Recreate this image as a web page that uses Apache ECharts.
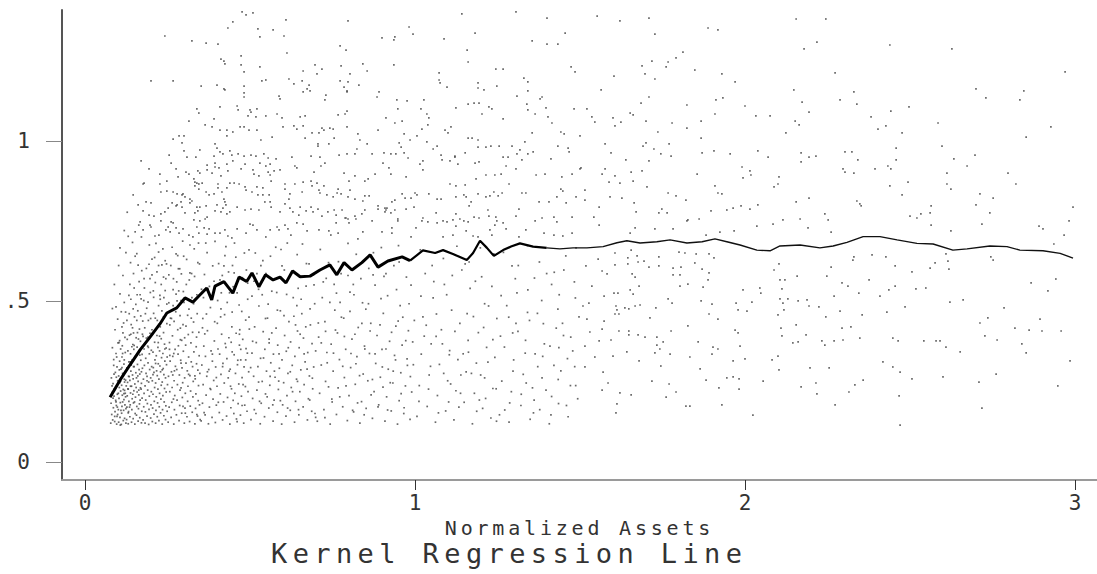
<!DOCTYPE html>
<html><head><meta charset="utf-8">
<script src="https://cdn.jsdelivr.net/npm/echarts@6/dist/echarts.min.js"></script>
<style>
html,body{margin:0;padding:0;background:#fff;}
#chart{width:1097px;height:574px;}
#chart text[style*="27px"]{letter-spacing:5.4px;}
#chart text[style*="20px"]{letter-spacing:3.8px;}
</style></head><body><div id="chart"></div>
<script>
const chartTitle = 'Kernel Regression Line';
const xAxisName = 'Normalized Assets';
const xTickValues = [0, 1, 2, 3];
const xTickLabels = ['0', '1', '2', '3'];
const yTickValues = [0, 0.5, 1];
const yTickLabels = ['0', '.5', '1'];
const xRange = [-0.0697, 3.0667];
const yRange = [-0.0561, 1.408];

const kernelX = [0.076,0.106,0.136,0.167,0.197,0.227,0.248,0.278,0.303,0.327,0.348,0.369,0.384,0.394,0.421,0.448,0.467,0.490,0.506,0.527,0.547,0.570,0.591,0.609,0.629,0.652,0.682,0.712,0.742,0.763,0.785,0.809,0.839,0.864,0.888,0.918,0.961,0.985,1.024,1.061,1.085,1.115,1.157,1.176,1.197,1.218,1.239,1.267,1.291,1.318,1.358,1.399,1.439,1.479,1.521,1.570,1.612,1.642,1.682,1.733,1.773,1.824,1.870,1.909,1.945,1.985,2.036,2.076,2.106,2.167,2.227,2.267,2.309,2.358,2.409,2.461,2.521,2.570,2.630,2.673,2.742,2.794,2.833,2.903,2.955,2.994];
const kernelY = [0.202,0.255,0.302,0.349,0.389,0.430,0.464,0.480,0.511,0.498,0.520,0.542,0.505,0.548,0.562,0.526,0.576,0.562,0.589,0.546,0.583,0.567,0.576,0.558,0.595,0.577,0.579,0.598,0.614,0.583,0.621,0.598,0.621,0.645,0.607,0.626,0.639,0.627,0.659,0.651,0.660,0.648,0.629,0.651,0.689,0.667,0.642,0.660,0.671,0.681,0.671,0.667,0.664,0.667,0.667,0.671,0.683,0.689,0.682,0.686,0.692,0.682,0.686,0.695,0.686,0.676,0.660,0.658,0.673,0.676,0.667,0.673,0.684,0.702,0.702,0.692,0.681,0.679,0.660,0.664,0.673,0.671,0.660,0.658,0.650,0.635];

const dotsUpperLeft = [[0.476,1.402],[0.488,1.393],[0.509,1.399],[0.609,1.377],[0.448,1.371],[0.433,1.352],[0.524,1.349],[0.570,1.346],[0.242,1.327],[0.530,1.324],[0.603,1.327],[0.324,1.312],[0.367,1.305],[0.403,1.302],[0.797,1.374],[1.142,1.396],[1.306,1.402],[1.400,1.383],[0.982,1.355],[0.994,1.333],[1.182,1.336],[1.455,1.336],[0.900,1.321],[0.936,1.315],[0.939,1.324],[1.088,1.318],[1.355,1.312],[1.400,1.302],[1.433,1.302],[0.773,1.296],[0.791,1.283],[0.612,1.274],[0.473,1.265],[1.158,1.283],[1.161,1.246],[0.412,1.255],[0.421,1.249],[0.424,1.240],[0.473,1.237],[0.530,1.231],[0.482,1.215],[0.661,1.218],[0.697,1.237],[0.718,1.224],[0.703,1.209],[0.776,1.234],[0.842,1.240],[0.936,1.237],[0.855,1.218],[0.803,1.209],[1.073,1.212],[1.245,1.224],[1.267,1.224],[1.473,1.231],[1.485,1.215],[0.200,1.187],[0.267,1.187],[0.352,1.171],[0.400,1.174],[0.421,1.162],[0.424,1.159],[0.482,1.171],[0.536,1.187],[0.548,1.190],[0.618,1.193],[0.633,1.178],[0.658,1.187],[0.679,1.174],[0.673,1.162],[0.682,1.156],[0.661,1.153],[0.773,1.187],[0.797,1.184],[0.785,1.168],[0.794,1.156],[0.830,1.174],[1.073,1.190],[1.076,1.181],[1.097,1.168],[1.191,1.181],[1.191,1.165],[1.209,1.159],[1.248,1.171],[1.309,1.140],[1.342,1.184],[1.342,1.156],[1.330,1.196],[0.482,1.150],[0.482,1.137],[0.588,1.140],[0.591,1.131],[0.730,1.143],[0.727,1.128],[0.794,1.153],[0.885,1.137],[0.891,1.153],[0.945,1.128],[0.976,1.125],[1.027,1.128],[1.124,1.103],[1.161,1.115],[1.179,1.118],[1.194,1.118],[1.224,1.106],[1.233,1.100],[1.339,1.115],[1.342,1.097],[1.385,1.137],[1.379,1.131],[1.397,1.103],[1.482,1.100],[0.339,1.100],[0.345,1.087],[0.409,1.106],[0.461,1.109],[0.464,1.097],[0.500,1.097],[0.503,1.090],[0.521,1.100],[0.494,1.078],[0.518,1.075],[0.548,1.078],[0.582,1.084],[0.597,1.072],[0.652,1.075],[0.667,1.078],[0.767,1.081],[0.788,1.084],[0.794,1.093],[0.948,1.100],[0.912,1.072],[0.939,1.056],[0.961,1.062],[1.018,1.100],[1.036,1.084],[1.042,1.072],[1.039,1.050],[1.021,1.037],[1.203,1.084],[1.267,1.069],[1.364,1.084],[1.403,1.075],[1.415,1.056],[0.315,1.062],[0.391,1.069],[0.364,1.050],[0.385,1.044],[0.409,1.034],[0.430,1.034],[0.430,1.016],[0.448,1.028],[0.470,1.044],[0.482,1.044],[0.497,1.034],[0.521,1.034],[0.567,1.012],[0.533,1.003],[0.600,1.044],[0.633,1.047],[0.642,1.037],[0.661,1.047],[0.667,1.009],[0.688,1.025],[0.709,1.025],[0.718,1.040],[0.724,1.034],[0.742,1.040],[0.752,1.037],[0.755,1.009],[0.739,0.991],[0.706,0.991],[0.706,0.984],[0.794,1.044],[0.827,1.022],[0.833,1.003],[0.855,0.991],[0.888,1.034],[0.967,1.022],[0.985,1.003],[1.006,1.016],[1.036,0.997],[1.067,0.984],[1.091,1.034],[1.100,1.025],[1.109,1.044],[1.161,1.009],[1.173,1.009],[1.191,1.003],[1.191,0.981],[1.215,0.981],[1.230,0.984],[1.255,0.984],[1.267,0.950],[1.282,0.950],[1.294,0.984],[1.318,0.972],[1.309,0.960],[1.333,0.997],[1.355,1.025],[1.358,0.966],[1.342,0.960],[1.412,0.944],[1.433,0.984],[1.442,1.028],[1.452,1.022],[1.464,0.978],[1.467,0.966],[1.500,1.016],[0.285,1.016],[0.300,1.016],[0.267,1.006],[0.294,0.994],[0.255,0.956],[0.300,0.969],[0.309,0.950],[0.336,0.950],[0.348,0.972],[0.394,0.991],[0.400,0.978],[0.409,0.966],[0.418,0.960],[0.391,0.953],[0.439,0.969],[0.445,0.956],[0.464,0.960],[0.482,0.953],[0.503,0.956],[0.518,0.953],[0.542,0.960],[0.555,0.947],[0.579,0.944],[0.627,0.950],[0.685,0.953],[0.712,0.950],[0.770,0.956],[0.794,0.960],[0.818,0.960],[0.824,0.975],[0.870,0.960],[0.906,0.963],[0.927,0.960],[0.942,0.960],[0.952,0.994],[0.958,0.981],[0.967,0.963],[0.979,0.947],[1.055,0.975],[1.079,0.956],[1.121,0.953],[1.152,0.963],[0.170,0.938],[0.194,0.913],[0.179,0.869],[0.227,0.897],[0.261,0.931],[0.276,0.913],[0.282,0.888],[0.306,0.903],[0.315,0.897],[0.342,0.907],[0.348,0.900],[0.330,0.882],[0.339,0.869],[0.370,0.925],[0.370,0.910],[0.385,0.900],[0.394,0.931],[0.394,0.919],[0.406,0.916],[0.412,0.891],[0.430,0.928],[0.433,0.907],[0.448,0.938],[0.473,0.913],[0.485,0.928],[0.509,0.910],[0.512,0.897],[0.527,0.891],[0.530,0.931],[0.548,0.922],[0.561,0.928],[0.555,0.903],[0.561,0.894],[0.573,0.907],[0.591,0.910],[0.636,0.922],[0.642,0.916],[0.661,0.872],[0.694,0.903],[0.715,0.922],[0.727,0.931],[0.785,0.900],[0.800,0.875],[0.818,0.891],[0.848,0.875],[0.858,0.882],[0.879,0.897],[0.903,0.931],[0.921,0.916],[0.927,0.897],[0.973,0.888],[1.015,0.928],[1.024,0.938],[1.024,0.910],[1.082,0.941],[1.106,0.938],[1.121,0.950],[1.130,0.928],[1.182,0.931],[1.194,0.935],[1.185,0.882],[1.215,0.894],[1.242,0.894],[1.261,0.897],[1.276,0.922],[1.306,0.913],[1.324,0.941],[1.367,0.894],[1.394,0.897],[1.445,0.888],[1.476,0.897],[1.500,0.913],
[0.176,0.866],[0.227,0.866],[0.248,0.875],[0.230,0.841],[0.248,0.844],[0.267,0.841],[0.279,0.835],[0.294,0.832],[0.303,0.826],[0.318,0.819],[0.333,0.872],[0.333,0.860],[0.345,0.866],[0.355,0.869],[0.345,0.850],[0.367,0.841],[0.376,0.832],[0.391,0.835],[0.403,0.866],[0.403,0.854],[0.415,0.841],[0.421,0.819],[0.424,0.810],[0.430,0.854],[0.439,0.869],[0.452,0.869],[0.467,0.866],[0.485,0.857],[0.488,0.847],[0.506,0.841],[0.521,0.857],[0.539,0.854],[0.524,0.832],[0.539,0.832],[0.564,0.875],[0.558,0.832],[0.606,0.866],[0.606,0.850],[0.621,0.835],[0.636,0.866],[0.658,0.841],[0.685,0.875],[0.688,0.860],[0.703,0.869],[0.709,0.847],[0.712,0.838],[0.724,0.860],[0.733,0.832],[0.764,0.838],[0.767,0.850],[0.752,0.826],[0.776,0.835],[0.797,0.826],[0.803,0.847],[0.818,0.819],[0.842,0.813],[0.848,0.829],[0.861,0.829],[0.888,0.798],[0.909,0.791],[0.912,0.785],[0.930,0.810],[0.939,0.816],[0.961,0.835],[0.970,0.822],[0.988,0.822],[1.000,0.838],[1.006,0.832],[1.042,0.835],[1.067,0.819],[1.079,0.819],[1.106,0.866],[1.124,0.860],[1.124,0.826],[1.155,0.826],[1.148,0.832],[1.152,0.863],[1.170,0.810],[1.164,0.798],[1.191,0.835],[1.215,0.826],[1.227,0.829],[1.239,0.841],[1.252,0.829],[1.264,0.838],[1.285,0.866],[1.324,0.838],[1.336,0.838],[1.376,0.810],[1.406,0.810],[1.442,0.850],[1.448,0.844],[1.430,0.826],[1.458,0.807],[1.488,0.826],
[0.185,0.810],[0.200,0.807],[0.176,0.782],[0.194,0.769],[0.209,0.766],[0.230,0.773],[0.242,0.779],[0.230,0.751],[0.252,0.791],[0.264,0.807],[0.261,0.748],[0.267,0.745],[0.276,0.798],[0.279,0.801],[0.291,0.810],[0.297,0.835],[0.294,0.794],[0.303,0.776],[0.318,0.807],[0.324,0.813],[0.339,0.794],[0.348,0.794],[0.367,0.798],[0.333,0.776],[0.342,0.782],[0.330,0.754],[0.348,0.751],[0.364,0.757],[0.370,0.763],[0.394,0.782],[0.400,0.801],[0.418,0.791],[0.427,0.801],[0.412,0.779],[0.430,0.773],[0.439,0.779],[0.461,0.794],[0.485,0.785],[0.503,0.788],[0.527,0.785],[0.545,0.810],[0.561,0.810],[0.564,0.794],[0.591,0.779],[0.606,0.804],[0.618,0.819],[0.621,0.791],[0.630,0.779],[0.652,0.794],[0.648,0.769],[0.670,0.782],[0.685,0.794],[0.691,0.779],[0.706,0.788],[0.718,0.766],[0.736,0.779],[0.755,0.785],[0.761,0.769],[0.779,0.785],[0.788,0.760],[0.797,0.757],[0.818,0.766],[0.839,0.773],[0.848,0.785],[0.888,0.788],[0.909,0.779],[0.915,0.791],[0.927,0.776],[0.939,0.785],[0.948,0.757],[0.973,0.788],[0.997,0.794],[1.024,0.760],[1.039,0.748],[1.064,0.776],[1.085,0.751],[1.097,0.748],[1.115,0.754],[1.124,0.773],[1.136,0.757],[1.148,0.751],[1.161,0.748],[1.179,0.763],[1.194,0.760],[1.221,0.785],[1.224,0.766],[1.245,0.763],[1.248,0.751],[1.267,0.745],[1.306,0.766],[1.315,0.788],[1.364,0.751],[1.385,0.760],[1.421,0.763],[1.430,0.748],[1.476,0.763],
[0.167,0.748],[0.176,0.723],[0.197,0.738],[0.200,0.732],[0.212,0.704],[0.224,0.707],[0.245,0.723],[0.252,0.732],[0.258,0.717],[0.276,0.729],[0.285,0.713],[0.297,0.726],[0.315,0.707],[0.327,0.701],[0.339,0.732],[0.345,0.713],[0.361,0.729],[0.370,0.710],[0.376,0.726],[0.394,0.713],[0.409,0.713],[0.424,0.723],[0.433,0.704],[0.445,0.698],[0.461,0.726],[0.488,0.713],[0.500,0.741],[0.509,0.738],[0.521,0.723],[0.548,0.701],[0.561,0.723],[0.582,0.732],[0.588,0.723],[0.606,0.738],[0.615,0.726],[0.624,0.707],[0.642,0.745],[0.661,0.741],[0.673,0.720],[0.709,0.723],[0.739,0.720],[0.745,0.707],[0.761,0.745],[0.767,0.713],[0.791,0.760],[0.800,0.745],[0.821,0.757],[0.827,0.695],[0.842,0.717],[0.870,0.751],[0.900,0.717],[0.930,0.729],[0.930,0.713],[0.948,0.751],[0.988,0.701],[1.003,0.729],[1.021,0.751],[1.067,0.745],[1.085,0.701],[1.115,0.707],[1.124,0.735],[1.155,0.720],[1.176,0.704],[1.191,0.701],[1.227,0.723],[1.233,0.707],[1.242,0.738],[1.276,0.726],[1.315,0.701],[1.336,0.723],[1.391,0.713],[1.421,0.707],[1.448,0.704],[1.476,0.713]];

const dotsLowerLeft = [[0.078,0.121],[0.081,0.148],[0.079,0.183],[0.083,0.217],[0.080,0.262],[0.084,0.131],[0.086,0.169],[0.088,0.205],[0.085,0.244],[0.087,0.301],[0.090,0.126],[0.091,0.157],[0.093,0.192],[0.089,0.228],[0.092,0.279],[0.094,0.338],[0.096,0.118],[0.097,0.142],[0.095,0.176],[0.098,0.211],[0.099,0.253],[0.097,0.296],[0.100,0.371],[0.102,0.124],[0.101,0.163],[0.103,0.198],[0.104,0.232],[0.102,0.268],[0.105,0.314],[0.106,0.139],[0.107,0.185],[0.108,0.221],[0.106,0.247],[0.109,0.289],[0.108,0.352],[0.110,0.117],[0.111,0.152],[0.112,0.173],[0.113,0.208],[0.111,0.239],[0.114,0.276],[0.112,0.327],[0.115,0.402],[0.116,0.129],[0.117,0.161],[0.118,0.194],[0.116,0.226],[0.119,0.258],[0.118,0.305],[0.120,0.136],[0.121,0.178],[0.122,0.214],[0.120,0.249],[0.123,0.283],[0.122,0.341],[0.124,0.121],[0.124,0.166],[0.123,0.203],[0.125,0.237],[0.121,0.388],[0.083,0.356],[0.091,0.412],[0.099,0.445],[0.110,0.468],[0.117,0.433],[0.087,0.319],[0.095,0.264],[0.104,0.287],[0.113,0.362],[0.119,0.318],[0.082,0.237],[0.090,0.142],[0.098,0.171],[0.107,0.115],[0.114,0.187],[0.120,0.223],[0.085,0.199],[0.093,0.232],[0.101,0.214],[0.109,0.161],[0.116,0.272],[0.123,0.255],[0.088,0.274],[0.096,0.327],[0.105,0.378],[0.112,0.421],[0.119,0.497],[0.106,0.524],[0.094,0.483],
[0.126,0.132],[0.127,0.171],[0.128,0.206],[0.129,0.248],[0.127,0.293],[0.130,0.346],[0.131,0.119],[0.132,0.157],[0.133,0.189],[0.131,0.227],[0.134,0.266],[0.133,0.312],[0.135,0.395],[0.136,0.141],[0.137,0.178],[0.138,0.215],[0.136,0.254],[0.139,0.283],[0.138,0.337],[0.140,0.428],[0.141,0.124],[0.142,0.163],[0.143,0.197],[0.141,0.236],[0.144,0.271],[0.143,0.318],[0.145,0.366],[0.146,0.135],[0.147,0.184],[0.148,0.222],[0.146,0.259],[0.149,0.297],[0.148,0.351],[0.150,0.452],[0.151,0.118],[0.152,0.151],[0.153,0.202],[0.151,0.243],[0.154,0.278],[0.153,0.329],[0.155,0.387],[0.156,0.146],[0.157,0.173],[0.158,0.218],[0.156,0.262],[0.159,0.304],[0.158,0.358],[0.160,0.471],[0.161,0.127],[0.162,0.166],[0.163,0.209],[0.161,0.251],[0.164,0.288],[0.163,0.341],[0.165,0.414],[0.166,0.138],[0.167,0.193],[0.168,0.231],[0.166,0.274],[0.169,0.317],[0.168,0.376],[0.170,0.508],[0.171,0.122],[0.172,0.158],[0.173,0.199],[0.171,0.245],[0.174,0.292],[0.173,0.335],[0.175,0.439],[0.128,0.382],[0.134,0.462],[0.139,0.507],[0.144,0.418],[0.149,0.542],[0.154,0.491],[0.159,0.403],[0.164,0.562],[0.169,0.455],[0.174,0.398],[0.130,0.228],[0.135,0.171],[0.140,0.302],[0.145,0.211],[0.150,0.187],[0.155,0.232],[0.160,0.268],[0.165,0.181],[0.170,0.227],[0.132,0.267],[0.137,0.312],[0.142,0.359],[0.147,0.402],[0.152,0.327],[0.157,0.441],[0.162,0.383],[0.167,0.521],[0.172,0.596],[0.147,0.587],[0.136,0.553],
[0.176,0.131],[0.178,0.172],[0.179,0.214],[0.177,0.258],[0.180,0.301],[0.179,0.352],[0.181,0.418],[0.182,0.121],[0.183,0.156],[0.184,0.193],[0.182,0.237],[0.185,0.276],[0.184,0.323],[0.186,0.386],[0.187,0.479],[0.188,0.143],[0.189,0.182],[0.190,0.224],[0.188,0.267],[0.191,0.309],[0.190,0.361],[0.192,0.441],[0.193,0.117],[0.194,0.164],[0.195,0.205],[0.193,0.249],[0.196,0.288],[0.195,0.337],[0.197,0.401],[0.198,0.528],[0.199,0.137],[0.200,0.178],[0.201,0.219],[0.199,0.262],[0.202,0.297],[0.201,0.348],[0.203,0.412],[0.204,0.126],[0.205,0.168],[0.206,0.211],[0.204,0.253],[0.207,0.294],[0.206,0.342],[0.208,0.463],[0.209,0.149],[0.210,0.189],[0.211,0.232],[0.209,0.279],[0.212,0.318],[0.211,0.373],[0.213,0.559],[0.214,0.121],[0.215,0.161],[0.216,0.203],[0.214,0.246],[0.217,0.284],[0.216,0.331],[0.218,0.394],[0.219,0.141],[0.220,0.184],[0.221,0.227],[0.219,0.269],[0.222,0.306],[0.221,0.357],[0.223,0.487],[0.224,0.129],[0.225,0.172],[0.226,0.214],[0.224,0.258],[0.227,0.299],[0.226,0.346],[0.228,0.421],[0.229,0.153],[0.230,0.196],[0.231,0.239],[0.229,0.281],[0.232,0.325],[0.231,0.384],[0.233,0.614],[0.234,0.118],[0.235,0.163],[0.236,0.207],[0.234,0.249],[0.237,0.291],[0.236,0.338],[0.238,0.452],[0.239,0.144],[0.240,0.187],[0.241,0.229],[0.239,0.272],[0.242,0.314],[0.241,0.367],[0.243,0.534],[0.244,0.132],[0.245,0.175],[0.246,0.218],[0.244,0.262],[0.247,0.303],[0.246,0.355],[0.248,0.431],[0.249,0.158],[0.250,0.241],[0.249,0.327],[0.180,0.542],[0.186,0.603],[0.191,0.498],[0.197,0.571],[0.203,0.632],[0.208,0.513],[0.213,0.448],[0.218,0.592],[0.223,0.654],[0.228,0.507],[0.233,0.471],[0.238,0.576],[0.243,0.627],[0.248,0.492],[0.195,0.676],[0.215,0.681],[0.236,0.664],[0.205,0.401],[0.226,0.392],
[0.252,0.124],[0.255,0.171],[0.257,0.219],[0.253,0.267],[0.258,0.314],[0.256,0.372],[0.259,0.448],[0.261,0.139],[0.263,0.186],[0.264,0.232],[0.262,0.281],[0.266,0.329],[0.265,0.393],[0.267,0.537],[0.269,0.118],[0.271,0.163],[0.272,0.207],[0.270,0.253],[0.274,0.298],[0.273,0.351],[0.275,0.468],[0.277,0.147],[0.279,0.193],[0.280,0.241],[0.278,0.288],[0.282,0.336],[0.281,0.412],[0.283,0.602],[0.285,0.129],[0.287,0.176],[0.288,0.224],[0.286,0.271],[0.290,0.317],[0.289,0.381],[0.291,0.503],[0.293,0.152],[0.295,0.201],[0.296,0.247],[0.294,0.293],[0.298,0.345],[0.297,0.428],[0.299,0.641],[0.301,0.121],[0.303,0.168],[0.304,0.214],[0.302,0.262],[0.306,0.308],[0.305,0.364],[0.307,0.553],[0.309,0.141],[0.311,0.189],[0.312,0.236],[0.310,0.284],[0.314,0.327],[0.313,0.397],[0.315,0.476],[0.317,0.126],[0.319,0.174],[0.320,0.221],[0.318,0.269],[0.322,0.312],[0.321,0.371],[0.323,0.587],[0.325,0.155],[0.327,0.203],[0.328,0.251],[0.326,0.297],[0.330,0.343],[0.329,0.436],[0.331,0.664],[0.333,0.119],[0.335,0.167],[0.336,0.212],[0.334,0.259],[0.338,0.306],[0.337,0.359],[0.339,0.521],[0.341,0.143],[0.343,0.191],[0.344,0.238],[0.342,0.286],[0.346,0.331],[0.345,0.404],[0.347,0.617],[0.349,0.132],[0.348,0.276],[0.260,0.612],[0.268,0.571],[0.276,0.648],[0.284,0.533],[0.292,0.586],[0.300,0.497],[0.308,0.631],[0.316,0.567],[0.324,0.512],[0.332,0.578],[0.340,0.462],[0.254,0.496],[0.270,0.438],[0.288,0.456],[0.306,0.423],[0.322,0.448],[0.338,0.389],[0.344,0.682],[0.318,0.676],[0.296,0.688],[0.264,0.669],
[0.352,0.128],[0.356,0.183],[0.358,0.241],[0.354,0.302],[0.360,0.361],[0.357,0.447],[0.362,0.584],[0.364,0.147],[0.367,0.208],[0.369,0.267],[0.365,0.329],[0.371,0.409],[0.370,0.652],[0.374,0.119],[0.377,0.171],[0.379,0.229],[0.375,0.288],[0.382,0.346],[0.380,0.481],[0.385,0.139],[0.388,0.196],[0.390,0.254],[0.386,0.314],[0.392,0.377],[0.391,0.563],[0.395,0.123],[0.398,0.177],[0.400,0.236],[0.396,0.296],[0.403,0.352],[0.401,0.432],[0.405,0.618],[0.407,0.154],[0.410,0.212],[0.412,0.273],[0.408,0.336],[0.414,0.398],[0.413,0.527],[0.417,0.131],[0.420,0.187],[0.422,0.246],[0.418,0.307],[0.425,0.369],[0.423,0.459],[0.427,0.671],[0.429,0.143],[0.432,0.201],[0.434,0.262],[0.430,0.322],[0.436,0.387],[0.435,0.592],[0.439,0.118],[0.442,0.169],[0.444,0.228],[0.440,0.289],[0.446,0.343],[0.445,0.421],[0.449,0.546],[0.451,0.151],[0.454,0.214],[0.456,0.276],[0.452,0.334],[0.458,0.401],[0.457,0.638],[0.461,0.126],[0.464,0.182],[0.466,0.243],[0.462,0.303],[0.468,0.364],[0.467,0.489],[0.471,0.146],[0.474,0.205],[0.476,0.263],[0.472,0.318],[0.478,0.382],[0.477,0.574],[0.481,0.121],[0.484,0.177],[0.486,0.235],[0.482,0.296],[0.488,0.353],[0.487,0.442],[0.491,0.158],[0.494,0.219],[0.496,0.281],[0.492,0.339],[0.498,0.414],[0.497,0.661],[0.359,0.512],[0.373,0.538],[0.387,0.611],[0.402,0.503],[0.416,0.581],[0.431,0.497],[0.447,0.612],[0.461,0.527],[0.475,0.469],[0.489,0.598],[0.366,0.682],[0.394,0.687],[0.424,0.643],[0.453,0.682],[0.483,0.651],[0.363,0.399],[0.411,0.452],[0.443,0.373],[0.469,0.412],[0.493,0.507],
[0.503,0.132],[0.508,0.198],[0.511,0.267],[0.506,0.339],[0.514,0.421],[0.512,0.563],[0.518,0.151],[0.521,0.224],[0.524,0.297],[0.519,0.372],[0.527,0.486],[0.531,0.119],[0.534,0.183],[0.537,0.251],[0.532,0.323],[0.540,0.406],[0.539,0.627],[0.544,0.141],[0.547,0.212],[0.550,0.283],[0.545,0.351],[0.553,0.448],[0.557,0.168],[0.560,0.239],[0.563,0.309],[0.558,0.383],[0.566,0.532],[0.570,0.127],[0.573,0.193],[0.576,0.264],[0.571,0.336],[0.579,0.417],[0.578,0.669],[0.583,0.155],[0.586,0.226],[0.589,0.292],[0.584,0.364],[0.592,0.471],[0.596,0.118],[0.599,0.178],[0.602,0.247],[0.597,0.318],[0.605,0.394],[0.604,0.598],[0.609,0.143],[0.612,0.207],[0.615,0.276],[0.610,0.345],[0.618,0.437],[0.622,0.161],[0.625,0.232],[0.628,0.301],[0.623,0.374],[0.631,0.512],[0.635,0.124],[0.638,0.189],[0.641,0.258],[0.636,0.329],[0.644,0.408],[0.643,0.646],[0.648,0.147],[0.651,0.219],[0.654,0.287],[0.649,0.356],[0.657,0.462],[0.661,0.172],[0.664,0.241],[0.667,0.312],[0.662,0.386],[0.670,0.548],[0.674,0.131],[0.677,0.197],[0.680,0.268],[0.675,0.341],[0.683,0.427],[0.687,0.158],[0.690,0.228],[0.693,0.296],[0.688,0.369],[0.696,0.493],[0.699,0.139],[0.516,0.651],[0.548,0.587],[0.581,0.528],[0.613,0.682],[0.646,0.541],[0.679,0.617],[0.526,0.538],[0.562,0.641],[0.594,0.662],[0.627,0.592],[0.659,0.679],[0.692,0.583],[0.555,0.492],[0.633,0.454],
[0.704,0.127],[0.711,0.214],[0.716,0.302],[0.708,0.389],[0.719,0.512],[0.724,0.163],[0.729,0.251],[0.733,0.341],[0.727,0.437],[0.738,0.621],[0.743,0.118],[0.748,0.196],[0.752,0.283],[0.746,0.367],[0.757,0.473],[0.762,0.148],[0.767,0.231],[0.771,0.319],[0.765,0.402],[0.776,0.587],[0.781,0.172],[0.786,0.263],[0.790,0.351],[0.784,0.448],[0.795,0.129],[0.800,0.207],[0.805,0.294],[0.809,0.383],[0.803,0.529],[0.814,0.156],[0.819,0.242],[0.824,0.328],[0.828,0.419],[0.822,0.647],[0.833,0.121],[0.838,0.188],[0.843,0.274],[0.847,0.361],[0.841,0.496],[0.852,0.167],[0.857,0.253],[0.862,0.338],[0.866,0.432],[0.860,0.603],[0.871,0.136],[0.876,0.219],[0.881,0.307],[0.885,0.394],[0.879,0.551],[0.890,0.178],[0.895,0.264],[0.900,0.351],[0.904,0.463],[0.898,0.668],[0.909,0.127],[0.914,0.203],[0.919,0.289],[0.923,0.376],[0.917,0.518],[0.928,0.159],[0.933,0.246],[0.938,0.332],[0.942,0.423],[0.936,0.612],[0.947,0.118],[0.952,0.191],[0.957,0.278],[0.961,0.364],[0.955,0.487],[0.966,0.151],[0.971,0.237],[0.976,0.321],[0.980,0.409],[0.974,0.576],[0.985,0.133],[0.990,0.218],[0.995,0.303],[0.998,0.441],[0.713,0.662],[0.755,0.553],[0.797,0.681],[0.836,0.571],[0.874,0.652],[0.912,0.587],[0.950,0.674],[0.988,0.551],[0.731,0.572],[0.773,0.497],[0.815,0.521],
[1.006,0.142],[1.013,0.238],[1.019,0.336],[1.024,0.452],[1.031,0.587],[1.037,0.173],[1.043,0.271],[1.049,0.368],[1.055,0.511],[1.062,0.124],[1.068,0.207],[1.074,0.304],[1.080,0.412],[1.086,0.634],[1.093,0.159],[1.099,0.253],[1.105,0.347],[1.111,0.473],[1.118,0.131],[1.124,0.222],[1.130,0.319],[1.136,0.432],[1.142,0.598],[1.149,0.186],[1.155,0.281],[1.161,0.379],[1.167,0.541],[1.174,0.119],[1.180,0.214],[1.186,0.308],[1.192,0.403],[1.198,0.667],[1.205,0.167],[1.211,0.262],[1.217,0.357],[1.223,0.486],[1.230,0.137],[1.236,0.229],[1.242,0.326],[1.248,0.447],[1.016,0.661],[1.052,0.612],[1.089,0.553],[1.127,0.672],[1.164,0.623],[1.202,0.577],[1.239,0.648],[1.028,0.392],[1.065,0.461],[1.102,0.187],[1.139,0.271],[1.177,0.453],[1.214,0.198],
[1.256,0.147],[1.263,0.252],[1.271,0.358],[1.278,0.487],[1.285,0.124],[1.292,0.219],[1.299,0.318],[1.306,0.432],[1.313,0.612],[1.321,0.176],[1.328,0.273],[1.335,0.379],[1.342,0.536],[1.349,0.133],[1.356,0.231],[1.364,0.337],[1.371,0.463],[1.378,0.163],[1.385,0.262],[1.392,0.368],[1.399,0.587],[1.407,0.119],[1.414,0.204],[1.421,0.301],[1.428,0.417],[1.435,0.182],[1.442,0.284],[1.450,0.394],[1.457,0.642],[1.464,0.141],[1.471,0.238],[1.478,0.346],[1.486,0.511],[1.493,0.197],[1.268,0.653],[1.304,0.571],[1.341,0.674],[1.377,0.623],[1.414,0.553],[1.451,0.598],[1.488,0.667],[1.296,0.402],[1.361,0.193],[1.433,0.476],
[0.083,0.478],[0.089,0.553],[0.102,0.612],[0.115,0.581],[0.124,0.652],[0.131,0.703],[0.138,0.621],[0.144,0.684],[0.152,0.717],[0.157,0.649],[0.163,0.738],[0.171,0.701],[0.128,0.778],[0.146,0.832],[0.119,0.721],[0.161,0.801],[0.106,0.667]];

const dotsMiddle = [[0.262,0.447],[0.291,0.231],[0.318,0.589],[0.347,0.178],[0.283,0.362],[0.329,0.493],[0.271,0.284],[0.356,0.418],[0.304,0.152],[0.377,0.547],[0.398,0.263],[0.421,0.611],[0.386,0.336],[0.449,0.192],[0.412,0.477],[0.468,0.398],[0.437,0.283],[0.493,0.557],[0.459,0.134],[0.508,0.376],[0.526,0.249],[0.487,0.318],[0.547,0.447],[0.569,0.178],[0.533,0.612],[0.588,0.337],[0.611,0.522],[0.574,0.283],[0.629,0.219],[0.652,0.398],[0.603,0.456],[0.673,0.289],[0.694,0.552],[0.647,0.163],[0.716,0.371],[0.738,0.234],[0.682,0.477],[0.759,0.411],[0.781,0.298],[0.727,0.138],[0.803,0.469],[0.826,0.184],[0.768,0.624],[0.848,0.352],[0.871,0.257],[0.813,0.553],[0.894,0.427],[0.917,0.162],[0.859,0.493],[0.941,0.318],[0.963,0.451],[0.906,0.578],[0.986,0.266],[0.952,0.623],[0.276,0.523],[0.302,0.387],[0.333,0.268],[0.361,0.154],[0.393,0.437],[0.427,0.357],[0.452,0.589],[0.479,0.241],[0.513,0.163],[0.541,0.324],[0.566,0.402],[0.597,0.611],[0.622,0.281],[0.655,0.507],[0.681,0.193],[0.707,0.433],[0.734,0.309],[0.762,0.526],[0.791,0.237],[0.818,0.398],[0.846,0.147],[0.873,0.583],[0.901,0.296],[0.929,0.404],[0.958,0.213],[0.982,0.493],[0.287,0.602],[0.311,0.457],[0.342,0.621],[0.371,0.281],[0.404,0.186],[0.438,0.527],[0.463,0.317],[0.497,0.451],[0.521,0.587],[0.552,0.203],[0.583,0.473],[0.616,0.356],[0.644,0.251],[0.671,0.618],[0.699,0.346],[0.722,0.561],[0.749,0.187],[0.777,0.451],[0.806,0.338],[0.832,0.269],[0.864,0.408],[0.888,0.172],[0.912,0.352],[0.944,0.537],[0.972,0.378],[0.257,0.332],[0.297,0.173],[0.326,0.404],[0.353,0.538],[0.381,0.226],[0.417,0.297],[0.446,0.467],[0.476,0.176],[0.502,0.294],[0.537,0.521],[0.561,0.267],[0.592,0.191],[0.619,0.577],[0.638,0.427],[0.664,0.337],[0.689,0.261],[0.711,0.598],[0.742,0.497],[0.772,0.203],[0.797,0.581],[0.821,0.306],[0.851,0.476],[0.879,0.337],[0.903,0.233],[0.934,0.283],[0.967,0.169],[0.993,0.374],[0.268,0.196],[0.314,0.273],[0.339,0.148],[0.368,0.461],[0.409,0.567],[0.441,0.236],[0.472,0.351],[0.506,0.517],[0.529,0.189],[0.558,0.371],[0.587,0.252],[0.614,0.168],[0.642,0.487],[0.669,0.421],[0.697,0.151],[0.729,0.407],[0.753,0.339],[0.786,0.391],[0.811,0.161],[0.839,0.432],[0.867,0.209],[0.897,0.509],[0.925,0.247],[0.949,0.439],[0.977,0.301],
[1.012,0.189],[1.034,0.426],[1.047,0.298],[1.071,0.153],[1.083,0.368],[1.096,0.521],[1.108,0.243],[1.121,0.407],[1.133,0.171],[1.146,0.337],[1.158,0.462],[1.171,0.276],[1.183,0.563],[1.195,0.193],[1.208,0.419],[1.221,0.311],[1.233,0.547],[1.246,0.228],[1.259,0.392],[1.272,0.162],[1.284,0.451],[1.297,0.283],[1.309,0.527],[1.322,0.211],[1.334,0.339],[1.347,0.441],[1.359,0.153],[1.372,0.297],[1.384,0.503],[1.397,0.224],[1.409,0.361],[1.422,0.591],[1.434,0.257],[1.447,0.432],[1.459,0.176],[1.472,0.389],[1.484,0.297],[1.497,0.452],[1.018,0.517],[1.041,0.227],[1.064,0.391],[1.087,0.276],[1.113,0.581],[1.138,0.214],[1.162,0.342],[1.187,0.158],[1.211,0.493],[1.236,0.381],[1.261,0.518],[1.287,0.184],[1.312,0.407],[1.337,0.246],[1.362,0.573],[1.387,0.329],[1.412,0.147],[1.437,0.521],[1.462,0.322],[1.487,0.238],[1.057,0.562],[1.104,0.334],[1.152,0.617],[1.199,0.271],[1.247,0.127],[1.294,0.611],[1.341,0.466],[1.389,0.431],[1.436,0.356],[1.483,0.561],
[0.094,0.187],[0.112,0.294],[0.127,0.441],[0.138,0.236],[0.149,0.363],[0.158,0.521],[0.171,0.281],[0.183,0.462],[0.192,0.357],[0.203,0.583],[0.214,0.307],[0.227,0.519],[0.238,0.403],[0.247,0.617],[0.256,0.351],[0.267,0.487],[0.278,0.561],[0.289,0.417],[0.298,0.531],[0.103,0.372],[0.118,0.213],[0.133,0.519],[0.147,0.297],[0.161,0.613],[0.176,0.391],[0.188,0.253],[0.199,0.447],[0.211,0.637],[0.222,0.372],[0.234,0.287],[0.245,0.571],[0.257,0.427],[0.269,0.338],[0.281,0.643],[0.293,0.379],[0.108,0.252],[0.123,0.467],[0.139,0.398],[0.152,0.641],[0.166,0.333],[0.179,0.571],[0.194,0.616],[0.207,0.533],[0.219,0.441],[0.231,0.553],[0.242,0.352],[0.254,0.583],[0.266,0.271],[0.279,0.502],[0.291,0.308],[0.099,0.148],[0.114,0.338],[0.131,0.153],[0.146,0.477],[0.163,0.224],[0.178,0.503],[0.191,0.389],[0.206,0.272],[0.223,0.612],[0.239,0.512]];

const dotsRight = [[1.552,1.389],[1.621,1.374],[1.709,1.383],[1.888,1.352],[1.918,1.346],[1.727,1.333],[2.155,1.380],[2.245,1.380],[2.218,1.308],[2.439,1.299],[2.627,1.287],[2.179,1.287],[1.812,1.277],[1.791,1.259],[1.767,1.246],[1.718,1.249],[1.688,1.234],[1.761,1.231],[1.697,1.209],[1.603,1.202],[1.727,1.193],[1.930,1.209],[1.848,1.221],[1.970,1.184],[2.273,1.212],[2.970,1.215],[1.564,1.159],[2.148,1.159],[2.330,1.153],[2.700,1.162],[2.845,1.156],[2.730,1.134],[2.833,1.128],[1.709,1.137],[1.685,1.118],[1.912,1.128],[1.933,1.134],[2.173,1.121],[2.288,1.128],[2.339,1.115],[2.497,1.106],[2.000,1.109],[1.824,1.112],[1.521,1.100],[2.442,1.093],[2.194,1.090],[1.652,1.087],[1.661,1.081],[1.909,1.084],[2.033,1.078],[2.076,1.078],[2.382,1.075],[1.536,1.075],[1.600,1.072],[1.545,1.059],[1.624,1.059],[1.700,1.062],[1.779,1.056],[1.867,1.062],[2.152,1.062],[2.585,1.056],[1.606,1.047],[1.824,1.040],[2.164,1.050],[2.403,1.037],[2.427,1.047],[2.927,1.044],[1.736,1.028],[2.124,1.025],[2.476,1.025],[1.867,1.009],[2.852,1.012],[1.576,0.991],[1.691,0.984],[1.700,0.994],[1.770,0.991],[2.597,0.984],[2.458,0.978],[1.724,0.975],[1.906,0.969],[2.039,0.969],[1.594,0.963],[1.745,0.960],[1.870,0.963],[1.955,0.960],[2.170,0.963],[2.303,0.966],[2.324,0.966],[1.776,0.953],[2.194,0.950],[2.215,0.953],[2.697,0.956],[1.639,0.941],[1.709,0.938],[2.070,0.950],[2.342,0.941],[2.458,0.941],[2.633,0.944],[2.170,0.935],[2.673,0.922],[1.991,0.919],[2.433,0.922],[2.442,0.913],[1.503,0.916],[1.576,0.913],[1.688,0.907],[2.015,0.907],[2.297,0.913],[2.394,0.913],[2.612,0.900],[2.797,0.900],[1.567,0.897],[1.606,0.891],[1.655,0.903],[1.855,0.897],[2.018,0.894],[2.303,0.903],[2.330,0.900],[1.994,0.885],[2.103,0.888],[1.588,0.872],[1.621,0.869],[1.661,0.875],[2.612,0.866],[2.821,0.866],[2.100,0.866],[2.494,0.872],[1.703,0.857],[1.909,0.860],[2.088,0.857],[2.439,0.860],[2.624,0.850],[1.515,0.847],[1.767,0.838],[1.918,0.838],[1.930,0.835],[2.476,0.832],[2.712,0.835],[1.591,0.826],[1.627,0.822],[1.791,0.829],[1.821,0.816],[2.194,0.822],[2.752,0.822],[1.515,0.816],[1.664,0.807],[2.339,0.813],[2.348,0.804],[2.155,0.810],[2.700,0.801],[2.994,0.794],[1.558,0.794],[1.748,0.788],[1.964,0.791],[1.988,0.798],[2.015,0.788],[2.039,0.801],[2.352,0.798],[2.564,0.798],[1.945,0.785],[1.739,0.776],[1.764,0.776],[1.897,0.782],[2.242,0.773],[2.561,0.776],[2.742,0.776],[1.670,0.779],[1.542,0.763],[1.827,0.754],[1.861,0.757],[2.167,0.757],[2.115,0.754],[2.252,0.754],[2.500,0.766],[2.521,0.760],[2.533,0.773],[2.718,0.741],[2.982,0.751],[1.824,0.751],[1.558,0.738],[2.036,0.735],[2.085,0.741],[2.564,0.738],[2.891,0.735],[1.667,0.729],[1.727,0.726],[1.782,0.726],[2.191,0.729],[2.967,0.707],[2.903,0.726],[1.652,0.713],[1.882,0.707],[1.924,0.716],[1.967,0.720],[2.261,0.716],[2.624,0.720],[2.936,0.679],
[1.655,0.660],[1.606,0.651],[1.555,0.632],[1.645,0.636],[1.673,0.642],[1.739,0.639],[1.800,0.654],[1.818,0.651],[1.852,0.648],[1.891,0.648],[1.906,0.636],[2.330,0.639],[2.385,0.645],[2.427,0.639],[2.609,0.648],[2.745,0.639],[2.752,0.629],[1.518,0.611],[1.606,0.614],[1.645,0.617],[1.676,0.623],[1.694,0.626],[1.709,0.607],[1.739,0.611],[1.782,0.604],[1.806,0.607],[1.848,0.620],[1.870,0.601],[2.103,0.617],[2.088,0.598],[2.261,0.607],[2.327,0.629],[2.455,0.611],[2.576,0.620],[2.615,0.626],[2.561,0.604],[1.567,0.595],[1.582,0.586],[1.658,0.586],[1.667,0.576],[1.782,0.583],[1.803,0.583],[1.891,0.589],[1.888,0.567],[2.158,0.579],[2.248,0.579],[2.506,0.592],[2.618,0.601],[2.942,0.570],[1.679,0.548],[1.536,0.548],[1.803,0.548],[1.827,0.554],[1.873,0.545],[2.106,0.567],[2.121,0.567],[2.294,0.558],[2.312,0.548],[2.376,0.567],[2.455,0.548],[2.548,0.542],[2.867,0.558],[1.573,0.517],[1.603,0.526],[1.615,0.526],[1.652,0.536],[1.661,0.523],[1.994,0.536],[2.045,0.542],[2.048,0.526],[2.112,0.539],[2.345,0.526],[2.518,0.539],[2.918,0.533],[2.106,0.508],[2.130,0.508],[2.188,0.505],[2.270,0.517],[2.409,0.517],[2.436,0.536],[2.661,0.505],[2.621,0.498],[1.509,0.486],[1.527,0.495],[1.609,0.486],[1.636,0.480],[1.667,0.486],[1.682,0.489],[1.730,0.480],[1.767,0.508],[1.779,0.495],[1.867,0.502],[1.900,0.492],[1.973,0.495],[2.021,0.498],[2.115,0.495],[2.161,0.502],[2.194,0.486],[2.224,0.483],[2.485,0.483],[2.785,0.480],[1.612,0.474],[1.648,0.477],[1.979,0.474],[2.006,0.470],[2.118,0.474],[2.288,0.470],[2.430,0.467],[1.606,0.461],[1.618,0.461],[1.891,0.461],[2.100,0.458],[2.245,0.452],[2.355,0.458],[1.521,0.445],[1.573,0.439],[1.712,0.449],[1.918,0.445],[2.155,0.427],[2.109,0.417],[2.712,0.433],[2.736,0.449],[2.861,0.411],[2.894,0.445],[2.900,0.408],[2.958,0.408],[2.818,0.417],[1.530,0.405],[1.567,0.414],[1.618,0.408],[1.648,0.408],[1.648,0.396],[1.676,0.396],[1.697,0.389],[1.733,0.389],[1.776,0.408],[1.827,0.424],[1.970,0.411],[1.979,0.402],[2.112,0.393],[2.185,0.396],[2.294,0.417],[2.321,0.421],[2.727,0.393],[2.764,0.380],[1.558,0.377],[1.594,0.380],[1.752,0.374],[1.733,0.364],[1.858,0.374],[1.903,0.358],[1.918,0.352],[1.985,0.361],[2.145,0.371],[2.161,0.374],[2.233,0.377],[2.242,0.364],[2.270,0.377],[2.297,0.380],[2.348,0.386],[2.448,0.386],[2.464,0.377],[2.542,0.377],[2.579,0.377],[2.591,0.377],[2.609,0.358],[2.652,0.343],[2.839,0.368],[2.852,0.340],[1.515,0.361],[1.545,0.327],[1.600,0.330],[1.642,0.343],[1.727,0.340],[1.742,0.352],[1.773,0.336],[1.833,0.327],[1.900,0.336],[2.082,0.318],[2.100,0.330],[1.679,0.315],[1.964,0.315],[2.000,0.321],[2.103,0.287],[1.515,0.296],[1.745,0.299],[1.864,0.290],[2.197,0.293],[2.255,0.293],[2.418,0.312],[2.448,0.296],[2.470,0.280],[2.600,0.265],[2.761,0.274],[2.985,0.315],[1.570,0.280],[1.882,0.255],[1.945,0.262],[1.964,0.265],[1.982,0.259],[2.055,0.252],[1.718,0.252],[2.358,0.255],[2.506,0.259],[2.709,0.249],[1.585,0.246],[1.770,0.243],[2.170,0.234],[2.215,0.246],[1.567,0.224],[1.921,0.231],[1.982,0.227],[2.333,0.240],[2.315,0.218],[2.948,0.237],[1.621,0.215],[1.655,0.209],[1.791,0.218],[2.218,0.212],[1.761,0.202],[2.467,0.206],[1.612,0.181],[1.821,0.174],[1.833,0.174],[1.930,0.178],[2.273,0.178],[2.718,0.168],[1.609,0.153],[2.024,0.146],[2.470,0.115]];

const FONT = 'DejaVu Sans Mono';
const TEXT_COLOR = '#333';
const allDots = dotsLowerLeft.concat(dotsMiddle, dotsUpperLeft, dotsRight);
const kernelPts = kernelX.map((x, i) => [x, kernelY[i]]);
const segThick = kernelPts.filter(p => p[0] <= 0.985);
const segMid = kernelPts.filter(p => p[0] >= 0.985 && p[0] <= 1.399);
const segThin = kernelPts.filter(p => p[0] >= 1.399);

const chart = echarts.init(document.getElementById('chart'), null, { renderer: 'svg' });
chart.setOption({
  animation: false,
  backgroundColor: '#fff',
  title: {
    text: chartTitle, left: 271, top: 542.5, padding: 0,
    textStyle: { fontSize: 27, lineHeight: 22, fontWeight: 'normal', fontFamily: FONT, color: TEXT_COLOR }
  },
  grid: { left: 62, right: 0, top: 10, bottom: 94, containLabel: false, outerBoundsMode: 'none' },
  xAxis: {
    type: 'value', min: xRange[0], max: xRange[1],
    axisLine: { show: true, onZero: false, lineStyle: { color: '#9a9a9a', width: 2 } },
    axisTick: { show: true, customValues: xTickValues, length: 10, lineStyle: { color: '#333', width: 1 } },
    axisLabel: { customValues: xTickValues, formatter: v => xTickLabels[xTickValues.indexOf(v)] ?? '',
      margin: 12, fontSize: 21, fontFamily: FONT, color: TEXT_COLOR },
    splitLine: { show: false },
    name: xAxisName, nameLocation: 'middle', nameGap: 35.5,
    nameTextStyle: { fontSize: 20, lineHeight: 16, fontFamily: FONT, color: TEXT_COLOR }
  },
  yAxis: {
    type: 'value', min: yRange[0], max: yRange[1],
    axisLine: { show: true, onZero: false, lineStyle: { color: '#555', width: 2 } },
    axisTick: { show: true, customValues: yTickValues, length: 16, lineStyle: { color: '#888', width: 1 } },
    axisLabel: { customValues: yTickValues, formatter: v => yTickLabels[yTickValues.indexOf(v)] ?? '',
      margin: 32, fontSize: 21, fontFamily: FONT, color: TEXT_COLOR, padding: [8, 0, 0, 0] },
    splitLine: { show: false }
  },
  series: [
    { type: 'scatter', data: allDots, symbol: 'rect', symbolSize: 1.7, silent: true,
      itemStyle: { color: '#444' }, z: 1 },
    { type: 'line', data: segThick, symbol: 'none', silent: true, z: 3,
      lineStyle: { color: '#000', width: 3 } },
    { type: 'line', data: segMid, symbol: 'none', silent: true, z: 3,
      lineStyle: { color: '#000', width: 2.2 } },
    { type: 'line', data: segThin, symbol: 'none', silent: true, z: 3,
      lineStyle: { color: '#111', width: 1.4 } }
  ]
});
</script>
</body></html>
